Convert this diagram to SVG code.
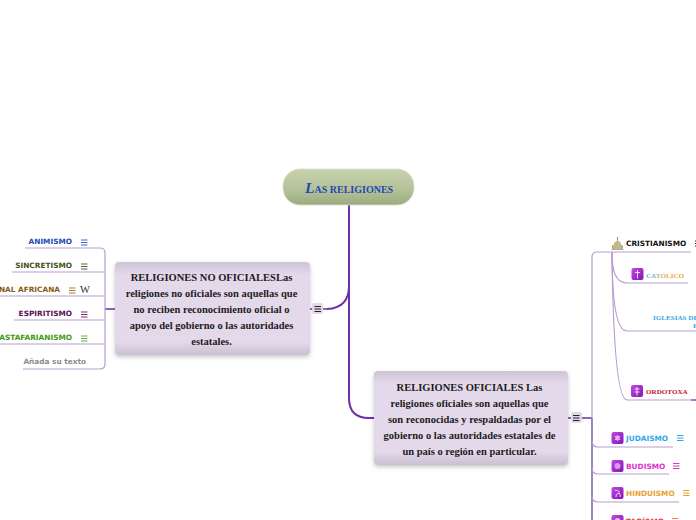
<svg xmlns="http://www.w3.org/2000/svg" width="696" height="520" viewBox="0 0 696 520">
<defs>
<linearGradient id="rootG" x1="0" y1="0" x2="0" y2="1"><stop offset="0" stop-color="#c8d3ae"/><stop offset="0.6" stop-color="#b3c097"/><stop offset="1" stop-color="#9dab80"/></linearGradient>
<linearGradient id="mainG" x1="0" y1="0" x2="0" y2="1"><stop offset="0" stop-color="#cfc3d6"/><stop offset="0.14" stop-color="#e3d9ea"/><stop offset="0.86" stop-color="#e3d9ea"/><stop offset="1" stop-color="#cbbfd2"/></linearGradient>
<linearGradient id="iconG" x1="0" y1="0" x2="1" y2="1"><stop offset="0" stop-color="#c04ae0"/><stop offset="1" stop-color="#8414b8"/></linearGradient>
<linearGradient id="catG" x1="646" x2="683" y1="0" y2="0" gradientUnits="userSpaceOnUse"><stop offset="0.1" stop-color="#50b8e8"/><stop offset="0.5" stop-color="#e8b050"/><stop offset="1" stop-color="#f0a020"/></linearGradient>
<filter id="sh" x="-10%" y="-10%" width="120%" height="125%"><feDropShadow dx="0" dy="2" stdDeviation="2" flood-color="#000" flood-opacity="0.22"/></filter>
<g id="menu"><path d="M0 0.500H6.500M0 3H6.500M0 5.500H6.500" fill="none" stroke-width="1" stroke="currentColor"/></g>
<g id="ico"><rect width="12" height="12" rx="2" fill="url(#iconG)"/></g>
</defs>
<style>
text{font-family:"Liberation Sans",Arial,sans-serif}
.serif{font-family:"Liberation Serif","Times New Roman",serif;font-weight:bold}
.main{font-size:10.5px;fill:#1c1c1c;text-anchor:middle}
.sub{font-size:7.35px;font-weight:bold;font-family:"DejaVu Sans",sans-serif}
.leafname{font-size:7.1px}
.end{text-anchor:end}
.leaf{fill:none;stroke:#b79dd0;stroke-width:1.2}
.thick{fill:none;stroke:#6d32a8;stroke-width:2}
.med{fill:none;stroke:#6d32a8;stroke-width:1.3}
.stem{fill:none;stroke:#8a62b8;stroke-width:1.6}
</style>
<rect width="696" height="520" fill="#fff"/>
<g id="connectors">
<path class="thick" d="M349 204V398Q349 418 369 418H374"/>
<path class="thick" d="M349 286Q349 308 327 309"/>
<path class="med" d="M327 309H323M310 309H312M105 309H115"/>
<path class="leaf" d="M25 248H100Q105 248 105 253V364Q105 369 100 369H23"/>
<path class="leaf" d="M12 272H105M0 296H105M14 320H105M0 344H105"/>
<path class="med" d="M568 418H571M582 418H592"/>
<path class="stem" d="M592 418V520"/>
<path class="leaf" d="M691 252H597Q592 252 592 257V418"/>
<path class="leaf" d="M612 252C612 270 615 283 627 283H688"/>
<path class="leaf" d="M612 252C612 300 616 331 627 331H696"/>
<path class="leaf" d="M612 252C613 340 617 400 627 400H691"/>
<path class="med" d="M691 400H696"/>
<path class="leaf" d="M592 441Q592 447 598 447H673"/>
<path class="leaf" d="M592 468Q592 474 598 474H669"/>
<path class="leaf" d="M592 496Q592 502 598 502H679"/>
</g>
<g id="root"><rect x="283" y="169" width="131" height="36" rx="17" fill="url(#rootG)" stroke="#d8e0c6" stroke-width="0.8"/>
<text x="305" y="193" class="serif" font-size="10" fill="#1f48b5"><tspan font-size="15.500" font-style="italic">L</tspan>AS RELIGIONES</text></g>
<g id="no-oficiales"><rect x="115" y="262" width="195" height="93" rx="4" fill="url(#mainG)" filter="url(#sh)"/>
<text class="serif main"><tspan x="211.500" y="281">RELIGIONES NO OFICIALESLas</tspan><tspan x="211.500" y="297">religiones no oficiales son aquellas que</tspan><tspan x="211.500" y="313">no reciben reconocimiento oficial o</tspan><tspan x="211.500" y="329">apoyo del gobierno o las autoridades</tspan><tspan x="211.500" y="345">estatales.</tspan></text>
<rect x="312" y="303" width="11" height="11" rx="2" fill="#e3d9ea"/><use href="#menu" x="314.500" y="306" color="#222"/></g>
<g id="oficiales"><rect x="374" y="371" width="194" height="94" rx="4" fill="url(#mainG)" filter="url(#sh)"/>
<text class="serif main"><tspan x="469.500" y="391">RELIGIONES OFICIALES Las</tspan><tspan x="469.500" y="407">religiones oficiales son aquellas que</tspan><tspan x="469.500" y="423">son reconocidas y respaldadas por el</tspan><tspan x="469.500" y="439">gobierno o las autoridades estatales de</tspan><tspan x="469.500" y="455">un país o región en particular.</tspan></text>
<rect x="571" y="412" width="11" height="11" rx="2" fill="#e3d9ea"/><use href="#menu" x="573" y="415" color="#222"/></g>
<g id="animismo"><text x="72" y="244" class="sub end" fill="#1f48b5">ANIMISMO</text><use href="#menu" x="81" y="239.500" color="#3a6bd0"/></g>
<g id="sincretismo"><text x="72" y="268" class="sub end" fill="#3f5222">SINCRETISMO</text><use href="#menu" x="81" y="263.500" color="#54663a"/></g>
<g id="africana"><text x="60" y="292" class="sub end" fill="#8a5a10">RELIGIÓN TRADICIONAL AFRICANA</text><use href="#menu" x="69" y="287.500" color="#a87a30"/><text x="80" y="293" font-size="10.500" fill="#333" style="font-family:'Liberation Serif',serif">W</text></g>
<g id="espiritismo"><text x="72" y="316" class="sub end" fill="#5a0f4e">ESPIRITISMO</text><use href="#menu" x="81" y="311.500" color="#7a2a70"/></g>
<g id="rastafarianismo"><text x="72" y="340" class="sub end" fill="#3f9a10">RASTAFARIANISMO</text><use href="#menu" x="81" y="335.500" color="#6ab040"/></g>
<g id="anada"><text x="86" y="364" class="sub end" fill="#8c8c8c">Añada su texto</text></g>
<g id="cristianismo"><path d="M612 249V245H614V249Z M621 249V245H623V249Z" fill="#b8b098"/><path d="M614 249V243L617.500 240L621 243V249Z" fill="#c4b58e"/><path d="M617 240V237H618V240Z" fill="#8c8470"/><path d="M611.500 249.500H623.500" stroke="#a9b48a"/><text x="626" y="246" class="sub" fill="#111">CRISTIANISMO</text><use href="#menu" x="695" y="240.500" color="#222"/></g>
<g id="catolico"><use href="#ico" x="631.500" y="268"/><path d="M637.500 270V278.500M635 272.500H640" stroke="#f4d8fa" fill="none"/><text x="646" y="277.500" class="serif leafname" fill="url(#catG)">CATÓLICO</text></g>
<g id="iglesias"><text x="653" y="319.500" class="serif leafname" fill="#30a8e8">IGLESIAS DE</text><text x="693" y="327.500" class="serif leafname" fill="#30a8e8">P</text></g>
<g id="ortodoxa"><use href="#ico" x="631" y="385"/><path d="M637 387V395.500M634.500 389H639.500M634.500 392H639.500" stroke="#f4d8fa" fill="none"/><text x="646" y="393.500" class="serif leafname" fill="#c8102e">ORDOTOXA</text></g>
<g id="judaismo"><use href="#ico" x="611.500" y="432"/><path d="M617.500 434.500L620.500 440H614.500ZM617.500 441.500L614.500 436H620.500Z" fill="#f0d0f8" fill-opacity="0.8"/><text x="626" y="441" class="sub" fill="#30a8e8">JUDAISMO</text><use href="#menu" x="677" y="435" color="#30a8e8"/></g>
<g id="budismo"><use href="#ico" x="611.500" y="460"/><circle cx="617.500" cy="466" r="3" fill="#d79ae8"/><text x="626" y="469" class="sub" fill="#e030d0">BUDISMO</text><use href="#menu" x="673" y="463" color="#e030d0"/></g>
<g id="hinduismo"><use href="#ico" x="611.500" y="487"/><path d="M615 490.500Q620 490 619 493Q615 494 616 497M619 493Q621 495 620 497" fill="none" stroke="#f0d0f8"/><text x="626" y="496" class="sub" fill="#e8a030">HINDUISMO</text><use href="#menu" x="683" y="490" color="#e8a030"/></g>
<g id="taoismo"><use href="#ico" x="611.500" y="515"/><circle cx="617.500" cy="521" r="3" fill="#e8c0f4"/><text x="626" y="524" class="sub" fill="#e04040">TAOÍSMO</text><use href="#menu" x="672" y="518" color="#f08060"/></g>
</svg>
